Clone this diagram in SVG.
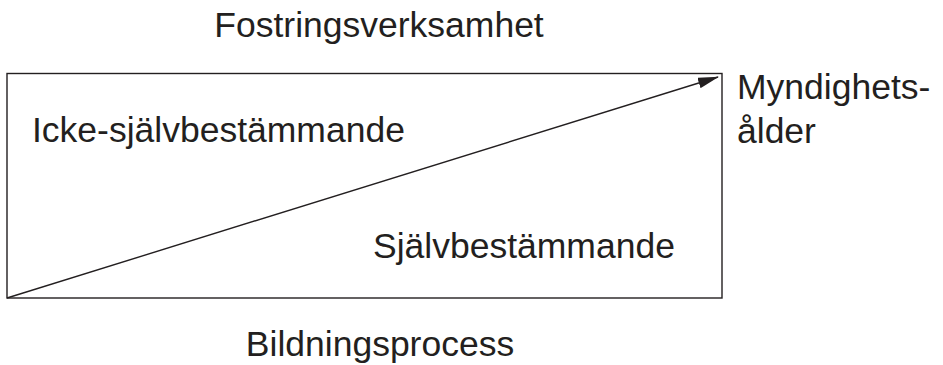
<svg xmlns="http://www.w3.org/2000/svg" width="943" height="365" viewBox="0 0 943 365">
<style>
.t{font-family:"Liberation Sans",Arial,Helvetica,sans-serif;font-size:35.5px;fill:#231f20}
.box{fill:none;stroke:#231f20;stroke-width:1.4}
.conn{fill:none;stroke:#231f20;stroke-width:1.4}
</style>
<defs>
<marker id="arr" markerWidth="21" markerHeight="11" refX="20" refY="5.5" orient="auto" markerUnits="userSpaceOnUse">
<path d="M0,0 L21,5.5 L0,11 Z" fill="#231f20"/>
</marker>
</defs>
<rect width="943" height="365" fill="#fff"/>
<g id="frame">
<rect class="box" x="7" y="73.5" width="715" height="224.5"/>
</g>
<g id="top-label"><text class="t" x="379" y="37" text-anchor="middle">Fostringsverksamhet</text></g>
<g id="bottom-label"><text class="t" x="380" y="356" text-anchor="middle">Bildningsprocess</text></g>
<g id="upper-region"><text class="t" x="32" y="142">Icke-självbestämmande</text></g>
<g id="lower-region"><text class="t" x="373" y="258">Självbestämmande</text></g>
<g id="end-label"><text class="t" x="737" y="99">Myndighets-</text><text class="t" x="737" y="143">ålder</text></g>
<g id="connectors">
<line class="conn" x1="7" y1="298" x2="718" y2="77" marker-end="url(#arr)"/>
</g>
</svg>
